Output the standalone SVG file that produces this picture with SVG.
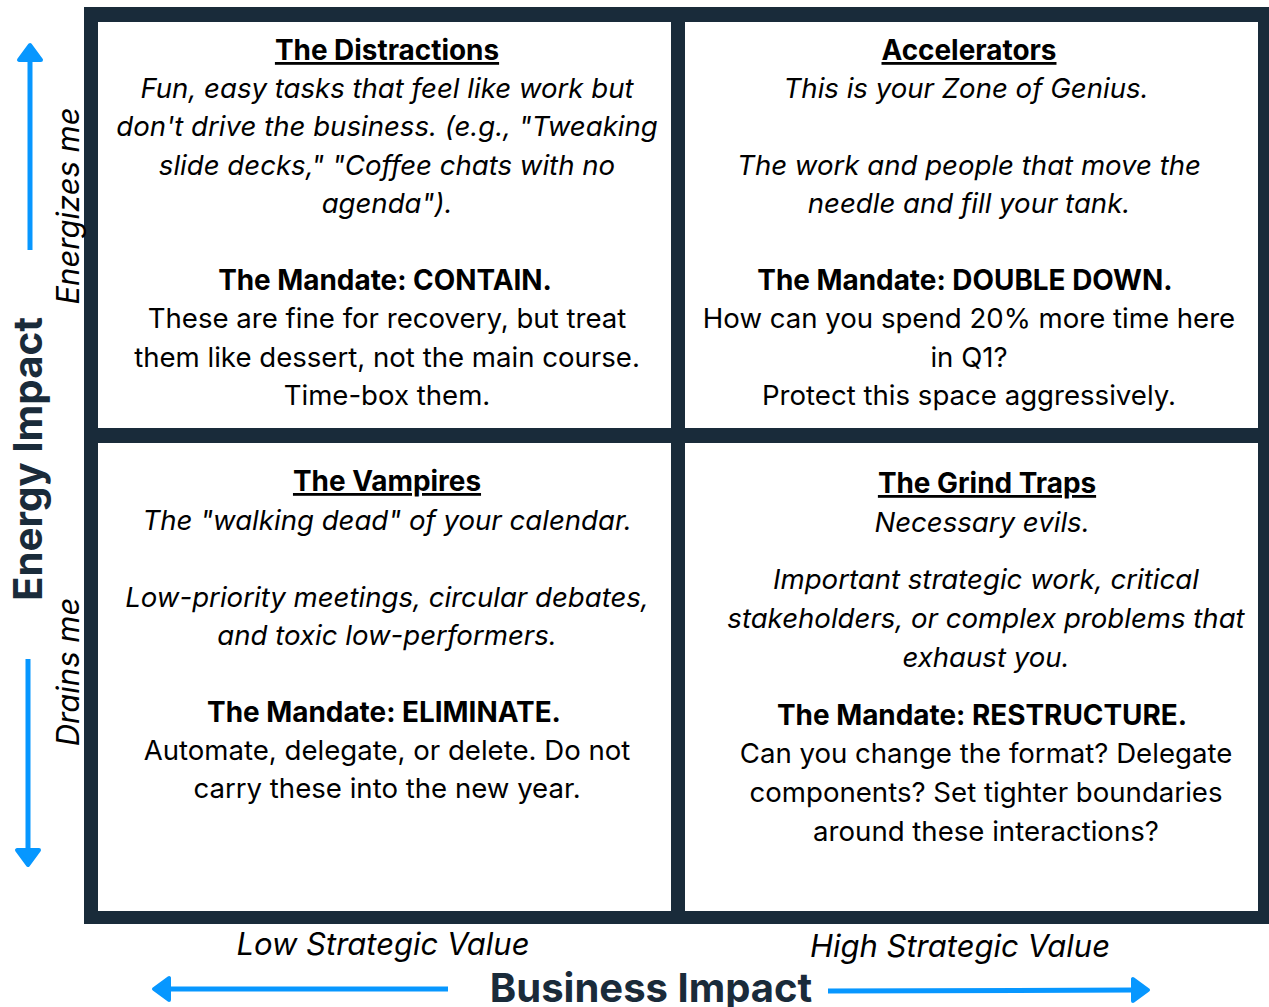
<svg xmlns="http://www.w3.org/2000/svg" width="1269" height="1007" viewBox="0 0 1269 1007">
<defs>
<style>
text{font-family:Inter,"Noto Sans","Liberation Sans",sans-serif;fill:#000;text-anchor:middle}
.t{font-weight:700;font-size:27.9px;text-decoration:underline}
.i{font-style:italic;font-size:27.6px}
.b{font-weight:700;font-size:27.9px}
.n{font-size:27.6px}
.axis{font-weight:700;fill:#1a2b3a}
.sub{font-style:italic;font-size:31px}
.arrow{stroke:#0797ff;stroke-width:5;fill:none}
.head{fill:#0797ff;stroke:#0797ff;stroke-width:4;stroke-linejoin:round}
</style>
</defs>
<rect x="84" y="7" width="1185" height="917" fill="#192b3a"/>
<g id="q-distractions">
<rect x="98" y="22" width="573" height="406" fill="#fff"/>
<text class="t" x="387" y="60">The Distractions</text>
<text class="i" x="387" y="98">Fun, easy tasks that feel like work but</text>
<text class="i" x="387" y="136">don't drive the business. (e.g., "Tweaking</text>
<text class="i" x="387" y="175">slide decks," "Coffee chats with no</text>
<text class="i" x="387" y="213">agenda").</text>
<text class="b" x="385" y="290">The Mandate: CONTAIN.</text>
<text class="n" x="387" y="328">These are fine for recovery, but treat</text>
<text class="n" x="387" y="367">them like dessert, not the main course.</text>
<text class="n" x="387" y="405">Time-box them.</text>
</g>
<g id="q-accelerators">
<rect x="685" y="22" width="573" height="406" fill="#fff"/>
<text class="t" x="969" y="60">Accelerators</text>
<text class="i" x="966" y="98">This is your Zone of Genius.</text>
<text class="i" x="969" y="175">The work and people that move the</text>
<text class="i" x="969" y="213">needle and fill your tank.</text>
<text class="b" x="965" y="290">The Mandate: DOUBLE DOWN.</text>
<text class="n" x="969" y="328">How can you spend 20% more time here</text>
<text class="n" x="969" y="367">in Q1?</text>
<text class="n" x="969" y="405">Protect this space aggressively.</text>
</g>
<g id="q-vampires">
<rect x="98" y="443" width="573" height="468" fill="#fff"/>
<text class="t" x="387" y="491">The Vampires</text>
<text class="i" x="387" y="530">The "walking dead" of your calendar.</text>
<text class="i" x="387" y="607">Low-priority meetings, circular debates,</text>
<text class="i" x="387" y="645">and toxic low-performers.</text>
<text class="b" x="384" y="722">The Mandate: ELIMINATE.</text>
<text class="n" x="387" y="760">Automate, delegate, or delete. Do not</text>
<text class="n" x="387" y="798">carry these into the new year.</text>
</g>
<g id="q-grind">
<rect x="685" y="443" width="573" height="468" fill="#fff"/>
<text class="t" x="987" y="493">The Grind Traps</text>
<text class="i" x="982" y="532">Necessary evils.</text>
<text class="i" x="986" y="589">Important strategic work, critical</text>
<text class="i" x="986" y="628">stakeholders, or complex problems that</text>
<text class="i" x="986" y="667">exhaust you.</text>
<text class="b" x="982" y="725">The Mandate: RESTRUCTURE.</text>
<text class="n" x="986" y="763">Can you change the format? Delegate</text>
<text class="n" x="986" y="802">components? Set tighter boundaries</text>
<text class="n" x="986" y="841">around these interactions?</text>
</g>
<g id="axis-labels">
<text class="axis" font-size="40.3" transform="translate(42,459) rotate(-90)">Energy Impact</text>
<text class="sub" transform="translate(79,206) rotate(-90)">Energizes me</text>
<text class="sub" transform="translate(79,672) rotate(-90)">Drains me</text>
<text class="sub" x="383" y="955">Low Strategic Value</text>
<text class="sub" x="960" y="957">High Strategic Value</text>
<text class="axis" font-size="40" x="651" y="1002">Business Impact</text>
</g>
<g id="connectors">
<line class="arrow" x1="30" y1="250" x2="30" y2="60"/>
<polygon class="head" points="30,45 19,60 41,60"/>
<line class="arrow" x1="28" y1="659" x2="28" y2="850"/>
<polygon class="head" points="28,865 17,850 39,850"/>
<line class="arrow" x1="448" y1="989" x2="168" y2="989"/>
<polygon class="head" points="154,989 169,978 169,1000"/>
<line class="arrow" x1="828" y1="991" x2="1134" y2="990"/>
<polygon class="head" points="1148,990 1133,979 1133,1001"/>
</g>
</svg>
